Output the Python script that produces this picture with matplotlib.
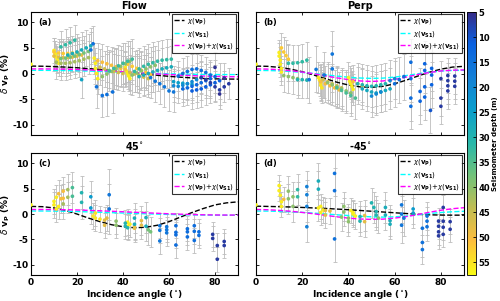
import numpy as np
import matplotlib
matplotlib.use("Agg")
import matplotlib.pyplot as plt
from matplotlib.colors import LinearSegmentedColormap, Normalize
from matplotlib.cm import ScalarMappable

plt.rcParams['font.family'] = ['DejaVu Sans']
plt.rcParams['axes.unicode_minus'] = False

# ---------------- data ----------------
titles = ['Flow', 'Perp', '45$^{\\circ}$', '-45$^{\\circ}$']
panel_labels = ['(a)', '(b)', '(c)', '(d)']
depth_ticks = [5, 10, 15, 20, 25, 30, 35, 40, 45, 50, 55]
x_ticks = [0, 20, 40, 60, 80]
y_ticks = [-10, -5, 0, 5, 10]

# rows: (depth m, incidence angles, delta vp %, error)
rows_a = [
    (57, [0], [1.8], 0.0),
    (56, [10, 10.5, 11, 11.5, 12], [4.5, 3.8, 3.2, 2.6, 2.0], 2.5),
    (52, [10, 12, 14, 16, 18, 20], [4.2, 4.0, 3.9, 3.9, 4.0, 4.1], 2.8),
    (48, [10, 12, 14, 16, 18, 20, 22], [3.4, 3.2, 3.1, 3.1, 3.2, 3.4, 3.6], 3.0),
    (42, [11, 13, 15, 17, 19, 21, 23, 25], [2.2, 2.0, 2.0, 2.1, 2.3, 2.5, 2.8, 3.1], 3.2),
    (38, [13, 15, 17, 19, 21, 23, 25], [2.9, 3.0, 3.2, 3.4, 3.7, 4.0, 4.3], 3.4),
    (32, [13, 15, 17, 19], [5.2, 5.6, 6.0, 6.5], 3.0),
    (28, [16, 18, 20, 22, 24, 26], [3.6, 3.9, 4.2, 4.6, 5.0, 5.4], 3.5),
    (15, [26, 27], [4.6, 5.8], 3.5),
    (26, [22], [-1.2], 3.5),
    (56, [27.5, 28, 28, 28.5, 29], [3.0, 2.0, 1.0, 0.0, -1.0], 3.0),
    (50, [29, 31, 33, 35, 37, 39, 41], [2.5, 2.2, 1.9, 1.6, 1.3, 1.0, 0.8], 3.5),
    (46, [30, 32, 34, 36, 38, 40], [1.2, 0.9, 0.6, 0.4, 0.2, 0.0], 3.5),
    (40, [31, 33, 35, 37, 39, 41, 43], [-0.6, -0.1, 0.4, 0.9, 1.4, 1.9, 2.4], 4.0),
    (33, [34, 36, 38, 40, 42, 44], [0.5, 1.0, 1.5, 2.0, 2.4, 2.8], 4.0),
    (15, [28.5, 31, 33, 35.5], [-2.6, -4.3, -4.1, -3.6], 4.2),
    (56, [41, 41.5, 42, 42.5, 43], [1.2, 0.5, 0.0, -0.5, -1.0], 3.0),
    (52, [42, 44, 46, 48, 50, 52], [1.8, 1.4, 1.0, 0.6, 0.2, -0.2], 3.5),
    (46, [43, 45, 47, 49, 51], [0.2, -0.1, -0.4, -0.7, -1.0], 3.5),
    (40, [44, 46, 48, 50, 52, 54], [-0.3, 0.1, 0.5, 0.9, 1.3, 1.6], 3.8),
    (32, [45, 47, 49, 51, 53, 55, 57, 59, 61], [0.4, 0.9, 1.4, 1.8, 2.1, 2.4, 2.6, 2.7, 2.8], 4.0),
    (28, [47, 49, 51, 53, 55, 57, 59, 61], [-0.6, -0.3, 0.0, 0.3, 0.6, 0.9, 1.1, 1.3], 4.0),
    (16, [52, 54, 56, 58, 60, 62], [-0.8, -1.5, -2.0, -2.6, -3.4, -3.6], 4.0),
    (25, [62, 64, 66, 68, 70], [-1.6, -1.8, -1.9, -2.0, -2.1], 3.0),
    (20, [62, 64, 66, 68, 70, 72, 74], [-2.4, -2.5, -2.3, -2.0, -1.6, -1.2, -0.8], 3.2),
    (15, [64, 66, 68, 70, 72, 74, 76, 78], [-0.5, 0.0, 0.4, 0.8, 0.9, 0.6, 0.2, -0.3], 3.0),
    (13, [66, 68, 70, 72, 74, 76, 78, 80], [-3.0, -2.8, -2.5, -2.2, -1.8, -1.4, -1.0, -0.6], 3.3),
    (11, [70, 72, 74, 76, 78, 80, 82], [-3.4, -3.2, -3.0, -2.6, -2.2, -1.8, -1.4], 3.5),
    (7, [74, 76, 78, 80, 82, 84, 86], [-0.8, -1.2, -1.8, -2.6, -3.2, -2.6, -2.0], 3.0),
    (6, [80, 82, 84], [1.2, -4.0, -0.9], 3.0),
]

rows_b = [
    (57, [0], [1.8], 0.0),
    (56, [10, 10, 10.5, 10.5, 11, 11], [4.1, 3.4, 2.6, 1.8, 1.0, 0.3], 2.5),
    (52, [11, 12, 13, 14], [5.0, 4.2, 3.5, 2.8], 3.0),
    (32, [14, 16, 18, 20, 22], [2.0, 2.0, 2.1, 2.3, 2.6], 3.5),
    (40, [12, 14, 16, 18], [-0.4, -0.6, -0.8, -1.0], 3.2),
    (30, [18, 20, 22], [-1.2, -1.2, -1.3], 3.5),
    (16, [23, 26, 29.5, 33, 33], [-1.2, 0.8, -0.3, 3.8, 0.9], 4.5),
    (55, [27, 27.5, 28, 28, 28.5], [-0.8, -1.3, -1.8, -2.3, -2.8], 3.0),
    (50, [28, 30, 32, 34, 36], [-1.6, -2.0, -2.4, -2.8, -3.2], 3.5),
    (46, [29, 31, 33, 35, 37], [-1.2, -1.6, -2.0, -2.4, -2.8], 3.5),
    (40, [31, 33, 35, 37, 39, 41], [-1.8, -2.2, -2.6, -3.0, -3.4, -3.8], 4.0),
    (34, [35, 37, 39, 41, 43], [-2.8, -3.3, -3.8, -4.3, -4.8], 4.0),
    (56, [40, 40.5, 41, 41.5, 42], [-0.8, -1.5, -2.0, -2.5, -3.1], 3.0),
    (50, [42, 44, 46], [-1.6, -2.0, -2.4], 3.2),
    (30, [44, 46, 48, 50, 52, 54, 56], [-2.0, -2.2, -2.4, -2.5, -2.4, -2.2, -2.0], 4.0),
    (27, [46, 48, 50, 52, 54, 56, 58], [-3.0, -3.3, -3.6, -3.8, -3.6, -3.3, -3.0], 4.0),
    (20, [50, 52, 54, 58, 60], [-4.4, -4.0, -3.6, -1.4, -1.0], 4.0),
    (14, [60, 62, 64, 67, 67, 67, 67], [-2.0, -1.2, -0.6, 2.2, -1.0, -4.8, -6.4], 4.5),
    (12, [71, 71, 73, 73, 73, 73, 76, 76, 76], [-5.4, -3.5, 1.9, 0.6, -2.6, -4.6, 1.0, -0.3, -2.2], 4.5),
    (10, [75.5], [-7.2], 4.5),
    (7, [80, 80, 80, 83, 83, 83, 83, 86, 86, 86], [-1.0, -4.8, -6.4, -0.4, -1.4, -2.4, -3.4, -0.5, -1.5, -2.5], 3.5),
]

rows_c = [
    (57, [0], [1.8], 0.0),
    (56, [10, 10, 11, 12, 11], [2.5, 1.8, 1.0, 1.5, 3.3], 2.5),
    (50, [12, 13, 14, 14], [4.0, 3.0, 4.5, 3.1], 2.8),
    (42, [14, 16, 16], [2.0, 4.8, 3.3], 3.0),
    (34, [18, 18], [5.2, 3.5], 3.0),
    (30, [22, 22], [4.2, 2.3], 3.2),
    (24, [26, 26], [3.4, 1.2], 3.2),
    (16, [34, 34], [3.8, 1.0], 5.0),
    (55, [27, 28, 28, 30], [-0.4, -0.8, 0.2, -1.0], 2.5),
    (48, [32, 32, 33], [-1.2, -2.2, -0.8], 2.5),
    (40, [37, 37], [-1.4, -2.2], 2.5),
    (30, [41, 41, 42], [-2.4, -1.8, -2.7], 2.5),
    (56, [42, 43, 42], [-1.6, -2.0, -2.4], 2.5),
    (48, [45, 45, 48, 48], [-2.4, -2.8, -2.2, -1.3], 2.8),
    (28, [45, 45, 50, 50], [-0.8, -2.0, -0.7, -2.4], 3.0),
    (38, [51, 52], [-3.1, -3.5], 3.0),
    (16, [56, 56, 56, 59, 59, 59], [-2.3, -3.2, -5.3, -2.5, -3.1, -3.7], 2.5),
    (14, [63, 63, 63, 63, 68, 68, 68, 71, 71, 71, 73, 73],
     [-2.3, -3.6, -6.1, -4.1, -2.9, -3.5, -4.5, -2.3, -3.4, -5.2, -3.5, -4.2], 2.5),
    (7, [79, 79, 81, 81, 84, 84], [-4.0, -4.8, -6.2, -8.9, -5.4, -6.2], 2.5),
]

rows_d = [
    (57, [0], [1.8], 0.0),
    (56, [10, 10, 10.5, 11, 11], [5.6, 4.6, 3.7, 2.4, 1.5], 2.0),
    (50, [12], [2.9], 2.5),
    (40, [14, 14, 16, 16], [4.5, 3.0, 1.5, 3.4], 3.0),
    (32, [18, 18], [3.4, 4.8], 3.0),
    (18, [22, 22, 22, 22], [5.4, 3.8, 1.5, -2.5], 3.0),
    (28, [27, 27], [6.5, 4.9], 3.5),
    (15, [34, 34, 34], [8.0, 4.6, -4.9], 4.5),
    (56, [27, 28, 29, 28], [1.2, 1.5, 0.8, 0.3], 2.5),
    (48, [30, 30, 32], [-0.2, 0.7, 0.6], 2.5),
    (40, [37, 38, 38, 40, 40], [-0.6, 0.4, 1.5, -1.5, -0.8], 2.8),
    (56, [41, 42, 42, 43], [0.7, 0.3, 0.0, -0.4], 2.5),
    (30, [45, 45], [-1.4, -0.5], 3.0),
    (48, [47, 47], [-1.5, -0.3], 3.0),
    (30, [50, 51, 52, 52], [2.2, 1.3, -0.2, 0.5], 3.0),
    (40, [53], [-0.8], 3.0),
    (28, [56, 56, 58, 58], [1.3, -0.2, -1.3, -2.0], 3.0),
    (16, [63, 63, 63, 64], [1.8, 0.0, -2.2, -0.8], 3.5),
    (24, [68, 68], [1.0, 0.2], 3.0),
    (15, [72, 72, 72, 74, 74, 74], [-2.8, -5.6, -7.0, -0.4, -1.4, -2.5], 2.8),
    (7, [79, 79, 79, 79, 81, 81, 81, 81, 84, 84],
     [-1.4, -2.4, -3.5, -4.3, 1.3, -1.4, -2.6, -4.0, -1.5, -3.0], 2.5),
]

# model curves, sampled every 5 degrees
curve_angles = [0, 5, 10, 15, 20, 25, 30, 35, 40, 45, 50, 55, 60, 65, 70, 75, 80, 85, 90]
vp_a = [1.45, 1.42, 1.35, 1.25, 1.12, 0.95, 0.78, 0.55, 0.32, 0.1, -0.12, -0.35, -0.55, -0.72, -0.86, -0.97, -1.04, -1.08, -1.1]
s1_a = [0.62, 0.62, 0.6, 0.58, 0.54, 0.48, 0.42, 0.34, 0.25, 0.16, 0.08, 0.0, -0.06, -0.11, -0.15, -0.18, -0.2, -0.21, -0.21]
sum_a = [0.9, 0.9, 0.88, 0.84, 0.78, 0.7, 0.6, 0.48, 0.34, 0.2, 0.06, -0.08, -0.2, -0.32, -0.42, -0.5, -0.57, -0.62, -0.64]
vp_b = [1.45, 1.4, 1.2, 0.85, 0.35, -0.3, -1.0, -1.7, -2.25, -2.6, -2.7, -2.5, -2.0, -1.3, -0.5, 0.25, 0.85, 1.25, 1.4]
s1_b = [0.6, 0.58, 0.52, 0.4, 0.22, 0.0, -0.25, -0.5, -0.72, -0.88, -0.95, -0.9, -0.7, -0.4, -0.05, 0.25, 0.48, 0.6, 0.62]
sum_b = [0.9, 0.86, 0.75, 0.55, 0.28, -0.05, -0.45, -0.85, -1.2, -1.45, -1.55, -1.45, -1.15, -0.7, -0.2, 0.2, 0.5, 0.65, 0.7]
vp_c = [1.5, 1.45, 1.2, 0.7, 0.0, -0.8, -1.5, -2.1, -2.5, -2.7, -2.6, -2.2, -1.5, -0.6, 0.3, 1.1, 1.8, 2.2, 2.4]
s1_c = [0.6, 0.6, 0.58, 0.55, 0.5, 0.42, 0.35, 0.27, 0.2, 0.12, 0.05, -0.02, -0.08, -0.13, -0.17, -0.2, -0.22, -0.23, -0.23]
sum_c = [0.9, 0.9, 0.88, 0.85, 0.8, 0.72, 0.64, 0.55, 0.45, 0.35, 0.25, 0.15, 0.05, -0.03, -0.1, -0.15, -0.18, -0.2, -0.2]
vp_d = [1.55, 1.5, 1.45, 1.38, 1.3, 1.2, 1.1, 0.98, 0.85, 0.7, 0.55, 0.4, 0.25, 0.1, -0.05, -0.15, -0.2, -0.22, -0.22]
s1_d = [0.6, 0.58, 0.52, 0.44, 0.32, 0.18, 0.02, -0.15, -0.3, -0.45, -0.55, -0.6, -0.55, -0.4, -0.15, 0.1, 0.3, 0.45, 0.55]
sum_d = [0.9, 0.85, 0.72, 0.55, 0.32, 0.05, -0.25, -0.55, -0.8, -0.98, -1.05, -1.0, -0.8, -0.5, -0.1, 0.35, 0.75, 1.05, 1.25]

panels = [
    (rows_a, vp_a, s1_a, sum_a),
    (rows_b, vp_b, s1_b, sum_b),
    (rows_c, vp_c, s1_c, sum_c),
    (rows_d, vp_d, s1_d, sum_d),
]

# approximate parula colormap
parula_pts = [
    (0.00, (0.208, 0.166, 0.529)),
    (0.12, (0.040, 0.380, 0.880)),
    (0.25, (0.078, 0.504, 0.838)),
    (0.37, (0.040, 0.620, 0.800)),
    (0.50, (0.160, 0.720, 0.660)),
    (0.62, (0.440, 0.760, 0.480)),
    (0.75, (0.760, 0.740, 0.320)),
    (0.87, (0.990, 0.740, 0.240)),
    (1.00, (0.976, 0.984, 0.080)),
]
parula = LinearSegmentedColormap.from_list('parula', parula_pts)
norm = Normalize(vmin=5, vmax=57.5)

fig = plt.figure(figsize=(5.0, 3.01), dpi=100)
positions = [
    [0.062, 0.5515, 0.414, 0.4086],
    [0.512, 0.5515, 0.416, 0.4086],
    [0.062, 0.0864, 0.414, 0.405],
    [0.512, 0.0864, 0.416, 0.405],
]

fs = 6.5
for i, (rows, vp, s1, sm) in enumerate(panels):
    ax = fig.add_axes(positions[i])
    xs, ys, es, ds = [], [], [], []
    for depth, ang, val, err in rows:
        for a, v in zip(ang, val):
            xs.append(a); ys.append(v); es.append(err); ds.append(depth)
    xs = np.array(xs); ys = np.array(ys); es = np.array(es); ds = np.array(ds)
    m = es > 0
    ax.errorbar(xs[m], ys[m], yerr=es[m], fmt='none', ecolor='#bdbdbd',
                elinewidth=0.6, capsize=1.3, capthick=0.6, zorder=1)
    ax.plot(curve_angles, vp, '--', color='black', lw=1.0, zorder=2, label=r'$\chi(\mathbf{v_P})$')
    ax.plot(curve_angles, s1, '--', color='cyan', lw=1.0, zorder=2, label=r'$\chi(\mathbf{v_{S1}})$')
    ax.plot(curve_angles, sm, '--', color='magenta', lw=1.0, zorder=2,
            label=r'$\chi(\mathbf{v_P})$+$\chi(\mathbf{v_{S1}})$')
    order = np.argsort(-ds)
    ax.scatter(xs[order], ys[order], c=ds[order], cmap=parula, norm=norm, s=7,
               edgecolors='none', zorder=3, clip_on=True)
    ax.set_xlim(0, 90)
    ax.set_ylim(-12, 12)
    ax.set_xticks(x_ticks)
    ax.set_yticks(y_ticks)
    ax.tick_params(direction='in', top=True, right=True, length=2.5, width=0.6,
                   labelsize=fs, pad=2)
    for lab in ax.get_xticklabels() + ax.get_yticklabels():
        lab.set_fontweight('bold')
    for sp in ax.spines.values():
        sp.set_linewidth(0.8)
    if i < 2:
        ax.set_xticklabels([])
    else:
        ax.set_xlabel('Incidence angle ($^{\\circ}$)', fontsize=fs, fontweight='bold', labelpad=1)
    if i % 2 == 1:
        ax.set_yticklabels([])
    else:
        ax.set_ylabel(r'$\delta$ $\mathbf{v_P}$ (%)', fontsize=fs, fontweight='bold', labelpad=0)
    ax.set_title(titles[i], fontsize=7, fontweight='bold', pad=2)
    ax.text(0.035, 0.95, panel_labels[i], transform=ax.transAxes, fontsize=6,
            fontweight='bold', va='top', ha='left')
    leg = ax.legend(loc='upper right', fontsize=5, frameon=True, fancybox=False,
                    handlelength=1.4, handletextpad=0.4, borderpad=0.3,
                    labelspacing=0.35, borderaxespad=0.3)
    leg.get_frame().set_edgecolor('black')
    leg.get_frame().set_linewidth(0.8)

cax = fig.add_axes([0.934, 0.0864, 0.018, 0.8736])
sm_ = ScalarMappable(norm=norm, cmap=parula)
cb = fig.colorbar(sm_, cax=cax, ticks=depth_ticks)
cax.invert_yaxis()
cb.outline.set_linewidth(0.6)
cax.tick_params(labelsize=6, direction='in', length=2, width=0.6, pad=1.5)
for lab in cax.get_yticklabels():
    lab.set_fontweight('bold')
cb.set_label('Seismometer depth (m)', fontsize=5, fontweight='bold')
cax.yaxis.set_label_coords(2.75, 0.5)

fig.savefig('out.png', dpi=100)
